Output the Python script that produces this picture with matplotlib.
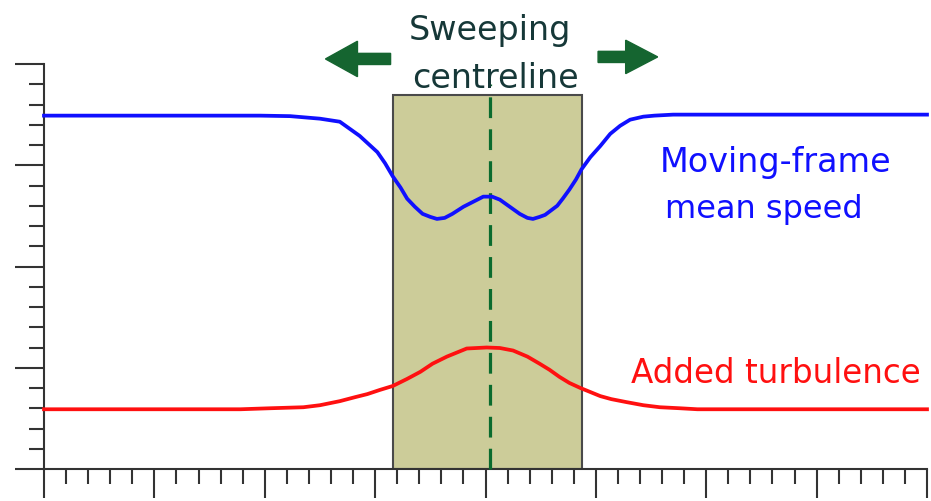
import matplotlib
matplotlib.use('Agg')
import matplotlib.pyplot as plt
from matplotlib.patches import Rectangle
from matplotlib.ticker import MultipleLocator

# moving-frame mean speed
blue_x = [0.0, 1.96, 2.23, 2.50, 2.68, 2.77, 2.86, 3.02, 3.09, 3.16, 3.23, 3.29,
          3.36, 3.43, 3.50, 3.56, 3.63, 3.70, 3.80, 3.89, 3.98, 4.06, 4.13, 4.22,
          4.31, 4.38, 4.43, 4.49, 4.54, 4.65, 4.70, 4.76, 4.82, 4.87, 4.95, 5.04,
          5.13, 5.22, 5.31, 5.43, 5.53, 5.70, 8.0]
blue_y = [3.49, 3.49, 3.485, 3.46, 3.43, 3.36, 3.29, 3.13, 3.02, 2.89, 2.78, 2.67,
          2.59, 2.52, 2.49, 2.47, 2.48, 2.52, 2.59, 2.64, 2.69, 2.69, 2.66, 2.59,
          2.52, 2.48, 2.47, 2.49, 2.51, 2.60, 2.67, 2.76, 2.86, 2.96, 3.08, 3.19,
          3.31, 3.39, 3.45, 3.48, 3.49, 3.50, 3.50]

# added turbulence
red_x = [0.0, 1.78, 2.05, 2.35, 2.50, 2.68, 2.82, 2.93, 3.04, 3.16, 3.29, 3.41,
         3.52, 3.65, 3.74, 3.83, 4.01, 4.13, 4.25, 4.38, 4.49, 4.58, 4.67, 4.76,
         4.86, 4.95, 5.04, 5.14, 5.28, 5.43, 5.58, 5.76, 5.92, 8.0]
red_y = [0.59, 0.59, 0.60, 0.61, 0.63, 0.67, 0.71, 0.74, 0.78, 0.82, 0.89, 0.96,
         1.04, 1.11, 1.15, 1.19, 1.20, 1.195, 1.17, 1.11, 1.04, 0.98, 0.91, 0.85,
         0.80, 0.76, 0.72, 0.69, 0.66, 0.63, 0.61, 0.60, 0.59, 0.59]

# sweeping band and centreline
box_left, box_right, box_top = 3.16, 4.87, 3.69
centre_x = 4.04
centre_top = 3.80

fig = plt.figure(figsize=(9.31, 5.02), dpi=100)
ax = fig.add_axes([44/931, 32/502, 883/931, 405/502])

ax.add_patch(Rectangle((box_left, 0), box_right - box_left, box_top,
                       facecolor='#cccc99', edgecolor='#4a4a4a', lw=1.5, zorder=1))
ax.plot([centre_x, centre_x], [0, centre_top], color='#0a6b2e', lw=2.3,
        linestyle=(0, (6.5, 3.5)), zorder=3, clip_on=False)

ax.plot(blue_x, blue_y, color='#1010ff', lw=2.7, zorder=4, clip_on=False)
ax.plot(red_x, red_y, color='#ff1010', lw=2.7, zorder=4, clip_on=False)

# arrows showing the sweep
ax.arrow(3.14, 4.05, -0.30, 0, width=0.11, head_width=0.35, head_length=0.29,
         length_includes_head=False, color='#156530', clip_on=False)
ax.arrow(5.02, 4.07, 0.25, 0, width=0.11, head_width=0.33, head_length=0.29,
         length_includes_head=False, color='#156530', clip_on=False)

ax.text(4.04, 4.25, 'Sweeping', ha='center', va='baseline',
        fontsize=24, color='#163838', zorder=6, clip_on=False)
ax.text(4.09, 3.77, 'centreline', ha='center', va='baseline',
        fontsize=24, color='#163838', zorder=6, clip_on=False)
ax.text(6.63, 2.94, 'Moving-frame', ha='center', va='baseline',
        fontsize=24, color='#1010ff')
ax.text(6.52, 2.49, 'mean speed', ha='center', va='baseline',
        fontsize=23, color='#1010ff')
ax.text(6.63, 0.86, 'Added turbulence', ha='center', va='baseline',
        fontsize=23.5, color='#ff1010')

ax.set_xlim(0, 8)
ax.set_ylim(0, 4)
ax.xaxis.set_major_locator(MultipleLocator(1))
ax.xaxis.set_minor_locator(MultipleLocator(0.2))
ax.yaxis.set_major_locator(MultipleLocator(1))
ax.yaxis.set_minor_locator(MultipleLocator(0.2))
ax.tick_params(which='major', direction='out', length=21, width=1.5, color='#333333',
               labelleft=False, labelbottom=False)
ax.tick_params(which='minor', direction='out', length=11, width=1.5, color='#333333')

for s in ['top', 'right']:
    ax.spines[s].set_visible(False)
for s in ['left', 'bottom']:
    ax.spines[s].set_linewidth(1.5)
    ax.spines[s].set_color('#333333')

fig.savefig('out.png', dpi=100)
